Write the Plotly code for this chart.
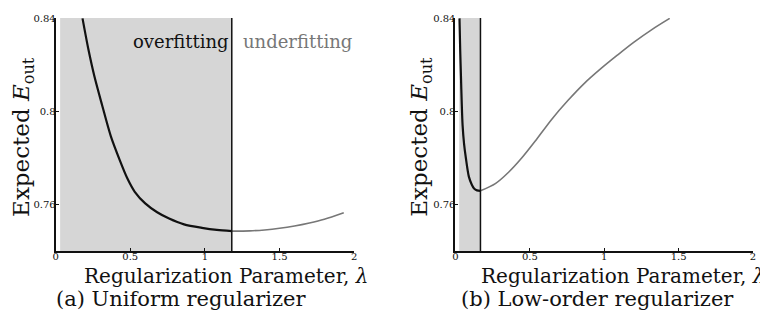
import plotly.graph_objects as go

# ---- data ----
# (a) Uniform regularizer
lam_a_over = [0.18, 0.22, 0.26, 0.31, 0.37, 0.43, 0.48, 0.53, 0.60, 0.68, 0.76, 0.86, 0.98, 1.08, 1.18]
eout_a_over = [0.840, 0.8265, 0.815, 0.803, 0.7893, 0.779, 0.7713, 0.7655, 0.7605, 0.7567, 0.754, 0.7515, 0.750, 0.7491, 0.7486]
lam_a_under = [1.18, 1.30, 1.40, 1.50, 1.60, 1.70, 1.80, 1.93]
eout_a_under = [0.7486, 0.7487, 0.7491, 0.7498, 0.7508, 0.7521, 0.7537, 0.7565]
shade_a = [0.03, 1.18]

# (b) Low-order regularizer
lam_b_over = [0.027, 0.032, 0.037, 0.042, 0.048, 0.058, 0.07, 0.09, 0.11, 0.125, 0.145, 0.168]
eout_b_over = [0.840, 0.826, 0.815, 0.804, 0.794, 0.786, 0.780, 0.772, 0.7685, 0.7669, 0.7661, 0.7659]
lam_b_under = [0.168, 0.268, 0.357, 0.445, 0.535, 0.645, 0.757, 0.868, 0.979, 1.09, 1.20, 1.32, 1.44]
eout_b_under = [0.7659, 0.769, 0.7739, 0.780, 0.7872, 0.7965, 0.8048, 0.8122, 0.8185, 0.8243, 0.8298, 0.8352, 0.840]
shade_b = [0.025, 0.168]

x_ticks = [0, 0.5, 1, 1.5, 2]
x_tick_text = ["0", "0.5", "1", "1.5", "2"]
y_ticks = [0.76, 0.8, 0.84]
y_tick_text = ["0.76", "0.8", "0.84"]
x_range = [0, 2.0005]
y_range = [0.74, 0.8402]

FONT = "DejaVu Serif"
OFF = 8                       # default page body margin
W, H = 768 - OFF, 320 - OFF

fig = go.Figure()

def curve(x, y, color, width, xa, ya):
    return go.Scatter(x=x, y=y, mode="lines",
                      line=dict(color=color, width=width, shape="spline", smoothing=0.8),
                      xaxis=xa, yaxis=ya, showlegend=False, hoverinfo="skip", cliponaxis=True)

fig.add_trace(curve(lam_a_over, eout_a_over, "#111111", 2.2, "x", "y"))
fig.add_trace(curve(lam_a_under, eout_a_under, "#777777", 1.6, "x", "y"))
fig.add_trace(curve(lam_b_over, eout_b_over, "#111111", 2.2, "x2", "y2"))
fig.add_trace(curve(lam_b_under, eout_b_under, "#777777", 1.6, "x2", "y2"))

shapes = []
for xr, yr, sh in (("x", "y", shade_a), ("x2", "y2", shade_b)):
    shapes.append(dict(type="rect", xref=xr, yref=yr, x0=sh[0], x1=sh[1], y0=y_range[0], y1=y_range[1],
                       fillcolor="#d6d6d6", line=dict(width=0), layer="below"))
    shapes.append(dict(type="line", xref=xr, yref=yr, x0=sh[1], x1=sh[1], y0=y_range[0], y1=y_range[1],
                       line=dict(color="#111111", width=1.5)))

def px_x(p):
    return (p - OFF) / W

def px_y(p):
    return 1 - (p - OFF) / H

axis_common = dict(showgrid=False, zeroline=False, showline=True, linecolor="#111111", linewidth=2,
                   ticks="inside", ticklen=3, tickcolor="#111111", ticklabeloverflow="allow",
                   tickfont=dict(family=FONT, size=10, color="#111111"))

ydom = [px_y(250), px_y(13)]
fig.update_layout(
    width=W, height=H, margin=dict(l=0, r=0, t=0, b=0),
    paper_bgcolor="white", plot_bgcolor="white",
    shapes=shapes,
    xaxis=dict(domain=[px_x(53), px_x(354)], range=x_range, tickvals=x_ticks, ticktext=x_tick_text,
               anchor="y", ticklabelstandoff=-5, **axis_common),
    yaxis=dict(domain=ydom, range=y_range, tickvals=y_ticks, ticktext=y_tick_text, anchor="x",
               ticklabelstandoff=-4, **axis_common),
    xaxis2=dict(domain=[px_x(456), px_x(756)], range=x_range, tickvals=x_ticks, ticktext=x_tick_text,
                anchor="y2", ticklabelstandoff=-5, **axis_common),
    yaxis2=dict(domain=ydom, range=y_range, tickvals=y_ticks, ticktext=y_tick_text, anchor="x2",
                ticklabelstandoff=-4, **axis_common),
)

def ann(text, x, y, size, color="#111111", angle=0):
    return dict(text=text, x=px_x(x), y=px_y(y), xref="paper", yref="paper", showarrow=False,
                xanchor="center", yanchor="middle", textangle=angle,
                font=dict(family=FONT, size=size, color=color))

ytitle = "Expected <i>E</i><sub>out</sub>"
xtitle = "Regularization Parameter, <i>λ</i>"
fig.update_layout(annotations=[
    ann(ytitle, 20, 134, 23, angle=-90),
    ann(ytitle, 421, 134, 23, angle=-90),
    ann(xtitle, 225, 275, 20),
    ann(xtitle, 625, 275, 20),
    ann("(a) Uniform regularizer", 179, 299, 21),
    ann("(b) Low-order regularizer", 599, 299, 21),
    ann("overfitting", 179, 37, 18),
    ann("underfitting", 297, 37, 18, color="#777777"),
])

fig.write_html("out.html")
